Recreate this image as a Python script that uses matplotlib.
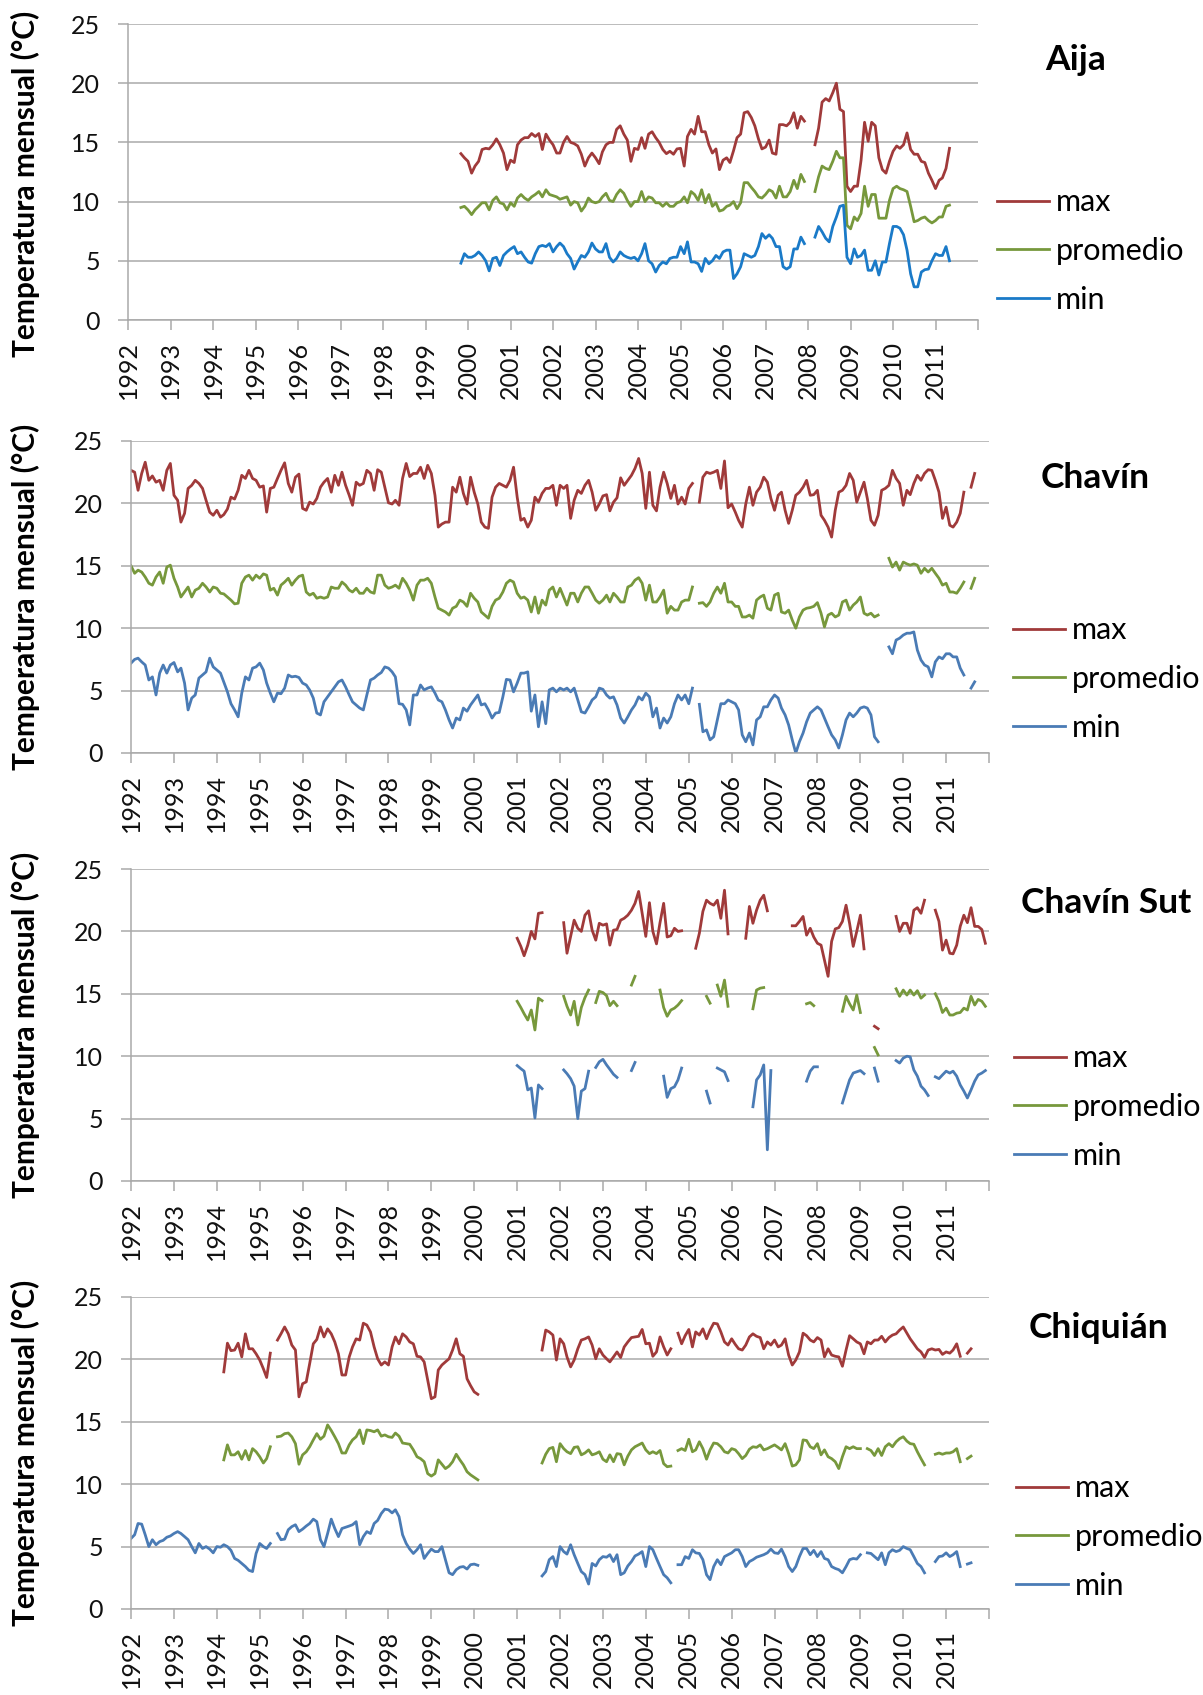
import pandas as pd
import matplotlib.pyplot as plt

plt.rcParams['font.family'] = ['Lato', 'DejaVu Sans']

# =========================
# Monthly temperatures (°C)
# each series = list of (first month, consecutive monthly values)
# =========================
aija_max = [
    ("1999-11", [14.05, 13.7, 13.4, 12.4, 13.0, 13.4, 14.4, 14.5, 14.45, 14.8,
                 15.3, 14.8, 14.1, 12.7, 13.5, 13.3, 14.8, 15.2, 15.4, 15.4,
                 15.75, 15.5, 15.75, 14.4, 15.7, 15.2, 14.8, 14.1, 14.1, 15.0,
                 15.5, 15.0, 14.9, 14.7, 14.0, 13.0, 13.7, 14.1, 13.7, 13.2,
                 14.2, 14.8, 15.0, 15.0, 16.1, 16.4, 15.7, 15.2, 13.4, 14.5,
                 14.4, 15.4, 14.5, 15.7, 15.9, 15.4, 15.0, 14.4, 14.05, 14.25,
                 14.0, 14.45, 14.5, 13.0, 15.5, 16.1, 15.7, 17.2, 15.9, 15.9,
                 14.8, 14.1, 14.45, 12.7, 13.5, 13.7, 13.3, 14.3, 15.4, 15.7,
                 17.5, 17.6, 17.1, 16.4, 15.3, 14.45, 14.6, 15.2, 14.1, 14.0,
                 16.5, 16.5, 16.4, 16.7, 17.5, 16.2, 17.2, 16.8]),
    ("2008-03", [14.8, 16.2, 18.4, 18.7, 18.5, 19.2, 20.0, 17.8, 17.6, 11.3,
                 10.85, 11.3, 11.3, 13.5, 16.7, 15.1, 16.7, 16.4, 13.7, 12.7,
                 12.4, 13.4, 14.25, 14.7, 14.5, 14.8, 15.8, 14.4, 14.0, 14.0,
                 13.4, 13.3, 12.4, 11.8, 11.1, 11.8, 12.0, 12.8, 14.5]),
]
aija_prom = [
    ("1999-11", [9.5, 9.6, 9.3, 8.9, 9.3, 9.6, 9.9, 9.9, 9.3, 10.1,
                 10.4, 9.9, 9.8, 9.3, 9.9, 9.6, 10.3, 10.6, 10.3, 10.1,
                 10.4, 10.6, 10.85, 10.4, 11.0, 10.6, 10.5, 10.4, 10.2, 10.3,
                 10.4, 9.7, 10.0, 9.9, 9.2, 9.6, 10.3, 10.0, 9.9, 10.0,
                 10.4, 10.7, 10.1, 10.0, 10.6, 11.0, 10.7, 10.1, 9.6, 10.0,
                 10.0, 10.85, 10.0, 10.4, 10.3, 9.9, 9.9, 9.6, 9.9, 9.6,
                 9.6, 9.9, 10.0, 10.4, 9.9, 10.85, 10.6, 10.1, 11.0, 9.9,
                 10.6, 9.6, 9.9, 9.2, 9.3, 9.6, 9.7, 10.0, 9.4, 9.9,
                 11.6, 11.6, 11.2, 10.85, 10.4, 10.3, 10.6, 11.0, 10.85, 10.3,
                 11.3, 10.4, 10.4, 10.85, 11.8, 11.1, 12.3, 11.7]),
    ("2008-03", [10.85, 12.1, 13.0, 12.8, 12.7, 13.4, 14.25, 13.7, 13.7, 8.0,
                 7.7, 8.7, 8.4, 9.0, 11.3, 9.6, 10.6, 10.6, 8.6, 8.6,
                 8.6, 10.1, 11.1, 11.3, 11.1, 11.0, 10.85, 9.6, 8.3, 8.4,
                 8.6, 8.7, 8.4, 8.2, 8.4, 8.7, 8.7, 9.6, 9.7]),
]
aija_min = [
    ("1999-11", [4.8, 5.6, 5.3, 5.3, 5.45, 5.75, 5.45, 5.0, 4.15, 5.2,
                 5.3, 4.6, 5.45, 5.75, 6.0, 6.2, 5.6, 5.75, 5.3, 4.9,
                 4.8, 5.6, 6.2, 6.3, 6.2, 6.45, 5.75, 6.2, 6.5, 6.2,
                 5.6, 5.2, 4.3, 4.9, 5.45, 5.3, 5.75, 6.5, 6.0, 5.75,
                 5.75, 6.45, 5.3, 4.9, 5.2, 5.75, 5.45, 5.3, 5.2, 5.3,
                 5.0, 5.6, 6.45, 5.0, 4.75, 4.05, 4.6, 4.9, 4.75, 5.2,
                 5.3, 5.3, 6.2, 5.6, 6.6, 4.9, 4.9, 4.75, 4.1, 5.2,
                 4.75, 5.0, 5.45, 5.2, 5.75, 5.9, 5.9, 3.5, 3.9, 4.5,
                 5.6, 5.45, 5.3, 5.45, 6.2, 7.3, 6.9, 7.2, 6.9, 6.2,
                 6.2, 4.5, 4.3, 4.5, 6.0, 6.0, 7.0, 6.45]),
    ("2008-03", [7.0, 7.9, 7.45, 6.9, 6.6, 7.9, 8.7, 9.6, 9.7, 5.3,
                 4.75, 6.0, 5.3, 5.45, 5.9, 4.2, 4.2, 5.0, 3.8, 4.9,
                 4.9, 6.45, 7.9, 7.9, 7.75, 7.2, 5.9, 3.9, 2.8, 2.8,
                 4.05, 4.25, 4.3, 5.0, 5.6, 5.45, 5.45, 6.2, 5.0]),
]

chavin_max = [
    ("1992-01", [22.65, 22.5, 21.05, 22.4, 23.3, 21.85, 22.2, 21.7, 21.85, 21.05,
                 22.65, 23.2, 20.65, 20.25, 18.5, 19.2, 21.2, 21.45, 21.85, 21.6,
                 21.2, 20.25, 19.3, 19.05, 19.45, 18.9, 19.1, 19.55, 20.5, 20.35,
                 21.05, 22.25, 22.0, 22.65, 22.0, 21.85, 21.3, 21.4, 19.3, 21.2,
                 21.3, 22.0, 22.65, 23.25, 21.6, 20.9, 22.1, 22.35, 19.6, 19.45,
                 20.1, 19.95, 20.4, 21.3, 21.7, 22.0, 20.9, 22.25, 21.45, 22.5,
                 21.45, 20.65, 19.85, 21.7, 21.45, 21.6, 22.65, 22.4, 21.05, 22.7,
                 22.5, 21.3, 20.05, 19.95, 20.25, 19.85, 22.0, 23.2, 22.15, 22.4,
                 22.4, 22.9, 22.0, 23.05, 22.4, 20.65, 18.1, 18.35, 18.5, 18.5,
                 21.3, 20.9, 22.1, 20.8, 19.95, 22.1, 20.9, 19.95, 18.5, 18.1,
                 18.0, 20.5, 21.3, 21.6, 21.45, 21.3, 21.85, 22.9, 20.5, 18.65,
                 18.8, 18.1, 18.65, 20.5, 20.1, 20.8, 21.2, 21.2, 21.45, 19.85,
                 21.45,
                 21.2, 21.45, 18.8, 20.25, 21.05, 20.8, 21.45, 21.85, 20.9, 19.45,
                 19.95, 20.6, 20.7, 19.4, 20.1, 20.45, 22.05, 21.45, 21.85, 22.25,
                 22.8, 23.6, 22.4, 19.6, 22.5, 19.85, 19.4, 21.3, 22.5, 21.6,
                 20.4, 21.45, 19.95, 20.5, 19.95, 21.2, 21.6]),
    ("2005-04", [20.1, 22.1, 22.5, 22.4, 22.5, 22.65, 21.2, 23.4, 19.65,
                 19.95, 19.3, 18.65, 18.1, 19.95, 21.3, 19.85, 20.9, 21.3, 22.1,
                 21.7, 20.4, 19.45, 20.65, 20.9, 19.45, 18.4, 19.45, 20.65, 20.9,
                 21.3, 21.85, 20.65, 20.7, 21.05, 19.05, 18.65, 18.1, 17.3,
                 19.45, 20.9, 21.05, 21.45, 22.4, 21.85, 20.1, 20.9, 21.7, 20.4,
                 18.65, 18.25, 19.05, 21.05, 21.2, 21.45, 22.65,
                 22.0, 21.6, 19.85, 21.05, 20.7, 21.6, 22.25, 21.85, 22.4, 22.7, 22.65,
                 21.85, 20.9, 18.8, 19.7, 18.25, 18.1, 18.5, 19.2, 20.9]),
    ("2011-08", [21.3, 22.4]),
]
chavin_prom = [
    ("1992-01", [15.0, 14.4, 14.65, 14.5, 14.1, 13.6, 13.45, 14.1, 14.5, 13.6,
                 14.9, 15.05, 14.0, 13.3, 12.5, 12.9, 13.3, 12.5, 13.05, 13.2,
                 13.6, 13.3, 12.9, 13.3, 13.2, 12.8, 12.75, 12.5, 12.25, 11.95,
                 12.0, 13.6, 14.1, 14.25, 13.85, 14.25, 14.0, 14.35, 14.25, 13.05,
                 13.2, 12.65, 13.45, 13.7, 14.0, 13.45, 13.85, 14.15, 14.25, 12.9,
                 12.65, 12.8, 12.4, 12.5, 12.4, 12.5, 13.3, 13.2, 13.2, 13.7,
                 13.45, 13.05, 12.9, 13.2, 12.8, 12.8, 13.2, 12.9, 12.8, 14.25,
                 14.25, 13.45, 13.2, 13.3, 13.45, 13.2, 14.0, 13.6, 13.05, 12.25,
                 13.45, 13.85, 13.85, 14.0, 13.6, 12.5, 11.6, 11.45, 11.3, 11.05,
                 11.6, 11.75, 12.25, 12.1, 11.75, 12.8, 12.4, 12.1, 11.3, 11.05,
                 10.8, 11.75, 12.25, 12.4, 12.9, 13.6, 13.85, 13.7, 12.8, 12.4,
                 12.5, 12.25, 11.3, 12.5, 11.2, 12.25, 11.85, 13.05, 13.3, 12.5,
                 13.2,
                 12.5, 11.85, 12.8, 12.8, 12.1, 12.8, 13.3, 13.3, 12.8, 12.25,
                 12.0, 12.25, 12.65, 12.1, 12.8, 12.5, 12.1, 12.1, 13.3, 13.45,
                 13.85, 14.05, 13.6, 12.25, 13.45, 12.1, 12.1, 12.5, 13.05, 11.2,
                 11.75, 11.45, 11.45, 12.1, 12.25, 12.25, 13.3]),
    ("2005-04", [12.0, 12.05, 11.75, 12.1, 12.8, 13.3, 12.8, 13.6, 12.1, 12.1,
                 11.75, 11.75, 10.9, 10.9, 11.05, 10.8, 12.25, 12.5, 12.65, 11.6,
                 11.45, 12.65, 12.8, 11.3, 11.2, 11.45, 10.65, 10.0, 10.9, 11.45,
                 11.6, 11.65, 11.75, 12.05, 11.2, 10.1, 11.05, 11.2, 10.9, 11.05,
                 12.1, 12.25, 11.45, 11.85, 12.1, 12.5, 11.2, 11.05, 11.2, 10.9,
                 11.05]),
    ("2009-09", [15.6, 14.9, 15.3, 14.65, 15.3, 15.15, 15.05, 15.15, 15.05, 14.4,
                 14.8, 14.5, 14.8, 14.4, 14.0, 13.45, 13.6, 12.9, 12.9, 12.8,
                 13.2, 13.7]),
    ("2011-08", [13.2, 14.0]),
]
chavin_min = [
    ("1992-01", [7.2, 7.5, 7.6, 7.3, 7.05, 5.85, 6.1, 4.65, 6.4, 7.05,
                 6.4, 7.05, 7.25, 6.5, 6.8, 5.6, 3.45, 4.4, 4.65, 6.0,
                 6.25, 6.5, 7.6, 6.9, 6.65, 6.4, 5.7, 4.9, 3.95, 3.45,
                 2.9, 4.8, 6.1, 5.85, 6.8, 6.9, 7.2, 6.65, 5.6, 4.8,
                 4.1, 4.8, 4.75, 5.2, 6.25, 6.1, 6.15, 6.05, 5.6, 5.45,
                 5.05, 4.4, 3.2, 3.05, 4.1, 4.5, 4.9, 5.3, 5.7, 5.85,
                 5.3, 4.65, 4.1, 3.85, 3.6, 3.45, 4.65, 5.85, 6.0, 6.25,
                 6.45, 6.9, 6.8, 6.5, 6.1, 3.95, 3.9, 3.45, 2.25, 4.65,
                 4.65, 5.45, 5.05, 5.2, 5.3, 4.8, 4.25, 4.1, 3.45, 2.65,
                 2.0, 2.8, 2.65, 3.6, 3.35, 3.85, 4.25, 4.65, 3.85, 3.95,
                 3.45, 2.8, 3.2, 3.25, 4.5, 5.9, 5.85, 4.9, 5.6, 6.4,
                 6.4, 6.5, 3.35, 4.65, 2.1, 4.1, 2.35, 5.05, 5.2, 4.9,
                 5.2,
                 5.05, 5.2, 4.9, 5.2, 4.25, 3.3, 3.2, 3.7, 4.25, 4.5,
                 5.2, 5.1, 4.65, 4.4, 4.5, 3.85, 2.8, 2.4, 2.9, 3.45,
                 3.85, 4.5, 4.25, 4.8, 4.5, 2.9, 3.6, 2.0, 2.8, 2.4,
                 2.9, 3.95, 4.65, 4.25, 4.65, 3.95, 5.2]),
    ("2005-04", [3.9, 1.7, 1.85, 1.05, 1.3, 2.65, 3.95, 3.95, 4.25, 4.1,
                 3.95, 3.45, 1.45, 0.9, 1.6, 0.65, 2.65, 2.9, 3.7, 3.7,
                 4.25, 4.65, 4.4, 3.6, 3.05, 2.25, 1.05, 0.0, 0.9, 1.6,
                 2.5, 3.2, 3.45, 3.7, 3.45, 2.8, 2.1, 1.45, 1.05, 0.4,
                 1.45, 2.65, 3.2, 2.9, 3.2, 3.6, 3.7, 3.6, 3.05, 1.3,
                 0.9]),
    ("2009-09", [8.5, 7.95, 9.05, 9.2, 9.45, 9.6, 9.6, 9.7, 8.25, 7.45,
                 7.05, 6.9, 6.1, 7.3, 7.7, 7.55, 7.95, 7.95, 7.7, 7.7,
                 6.8, 6.25]),
    ("2011-08", [5.2, 5.7]),
]

sut_max = [
    ("2001-01", [19.45, 18.8, 18.05, 18.9, 20.0, 19.4, 21.45, 21.5]),
    ("2002-02", [20.7, 18.25, 19.6, 20.9, 20.25, 20.0, 21.3, 21.65, 20.1, 19.3,
                 20.65, 20.5, 20.6, 18.9, 20.1, 20.15, 20.9, 21.05, 21.3, 21.7,
                 22.25, 23.2, 21.45, 19.6, 22.3, 20.0, 19.0, 20.7, 22.25, 19.55,
                 19.65, 20.25, 20.0, 20.05]),
    ("2005-03", [18.65, 19.85, 21.6, 22.5, 22.25, 22.1, 22.5, 21.05, 23.3, 19.8]),
    ("2006-05", [19.45, 22.0, 20.65, 21.7, 22.5, 22.9, 21.65]),
    ("2007-06", [20.45, 20.45, 20.8, 21.2, 19.7, 20.25, 19.55, 19.05, 18.9, 17.7,
                 16.4, 19.2, 20.2, 20.3, 20.8, 22.1, 20.65, 18.8, 20.0, 21.3,
                 18.6]),
    ("2009-05", [12.4, 12.2]),
    ("2009-11", [21.2, 20.0, 20.65, 20.65, 19.85, 21.7, 21.9, 21.45, 22.5]),
    ("2010-10", [21.7, 20.8, 18.5, 19.3, 18.25, 18.2, 18.9, 20.4, 21.3, 20.7,
                 21.9, 20.4, 20.4, 20.15, 19.05]),
]
sut_prom = [
    ("2001-01", [14.4, 13.9, 13.4, 12.9, 13.7, 12.1, 14.65, 14.45]),
    ("2002-02", [14.8, 14.0, 13.3, 14.4, 12.5, 13.9, 14.7, 15.3]),
    ("2002-11", [14.3, 15.2, 15.1, 14.85, 14.05, 14.4, 14.05]),
    ("2003-09", [15.7, 16.4]),
    ("2004-05", [15.3, 13.9, 13.2, 13.7, 13.85, 14.1, 14.45]),
    ("2005-06", [14.8, 14.25]),
    ("2005-09", [15.7, 14.8, 16.1, 14.0]),
    ("2006-07", [13.8, 15.3, 15.45, 15.5]),
    ("2007-10", [14.2, 14.3, 14.05]),
    ("2008-08", [13.6, 14.8, 14.2, 13.7, 14.9, 13.5]),
    ("2009-05", [10.7, 10.1]),
    ("2009-11", [15.4, 14.8, 15.3, 14.9, 15.3, 14.9, 15.25, 14.65, 14.9]),
    ("2010-10", [15.0, 14.4, 13.5, 13.85, 13.3, 13.3, 13.45, 13.5, 13.85, 13.7,
                 14.8, 14.1, 14.55, 14.4, 14.0]),
]
sut_min = [
    ("2001-01", [9.25, 9.0, 8.8, 7.3, 7.45, 5.05, 7.7, 7.4]),
    ("2002-02", [8.9, 8.6, 8.2, 7.6, 5.0, 7.2, 7.4, 8.8]),
    ("2002-11", [9.1, 9.55, 9.75, 9.3, 8.95, 8.55, 8.3]),
    ("2003-09", [8.85, 9.5]),
    ("2004-06", [8.4, 6.7, 7.4, 7.55, 8.1, 9.05]),
    ("2005-06", [7.2, 6.25]),
    ("2005-09", [9.05, 8.9, 8.75, 8.05]),
    ("2006-07", [5.95, 8.1, 8.5, 9.3, 2.5, 8.85]),
    ("2007-10", [8.0, 8.8, 9.15, 9.15]),
    ("2008-08", [6.25, 7.2, 8.1, 8.65, 8.75, 8.85, 8.6]),
    ("2009-05", [9.05, 8.0]),
    ("2009-11", [9.65, 9.45, 9.85, 10.0, 9.95, 8.9, 8.4, 7.6, 7.3, 6.85]),
    ("2010-10", [8.35, 8.2, 8.5, 8.8, 8.65, 8.8, 8.4, 7.7, 7.2, 6.65,
                 7.3, 8.0, 8.5, 8.65, 8.85]),
]

chiq_max = [
    ("1994-03", [19.0, 21.3, 20.7, 20.75, 21.3, 20.2, 22.05, 20.85, 20.85, 20.45,
                 19.95, 19.25, 18.55, 20.5]),
    ("1995-06", [21.55, 22.05, 22.6, 22.05, 21.15, 20.75, 17.0, 18.05, 18.2, 19.65,
                 21.25, 21.6, 22.6, 21.8, 22.45, 22.05, 21.4, 20.45, 18.75, 18.75,
                 20.2, 21.0, 21.65, 21.55, 22.9, 22.75, 22.2, 21.0, 20.05, 19.55,
                 19.8, 19.55, 21.0, 21.8, 21.25, 22.05, 21.8, 21.4, 21.25, 20.25,
                 20.2, 19.8, 18.35, 16.85, 17.0, 19.15, 19.55, 19.8, 20.05, 20.75,
                 21.65, 20.45, 20.25, 18.45, 17.9, 17.4, 17.2]),
    ("2001-08", [20.75, 22.35, 22.2, 21.95, 19.95, 21.65, 21.25, 20.2, 19.4, 19.95,
                 20.85, 21.55, 21.65, 21.8, 21.15, 20.05, 20.85, 20.35, 20.05, 19.8,
                 20.2, 20.6, 20.15, 21.0, 21.4, 21.75, 21.8, 21.85, 22.4, 21.25,
                 21.3, 20.25, 20.6, 21.8, 21.0, 20.35, 20.85]),
    ("2004-10", [22.1, 21.25, 21.9, 22.4, 21.0, 22.2, 21.95, 22.45, 21.65,
                 22.35, 22.9, 22.85, 22.2, 21.4, 21.15, 21.65, 21.2, 20.85, 20.75,
                 21.15, 21.8, 22.05, 21.85, 21.75, 20.85, 21.4, 21.15, 21.55,
                 21.0, 21.15, 21.65, 20.35, 19.55, 19.95, 20.6, 22.1, 21.9, 21.55,
                 21.4, 21.75, 21.55, 20.2, 20.85, 20.35, 20.25, 20.2, 19.45, 20.75,
                 21.9, 21.65, 21.4, 21.25, 20.45, 21.4, 21.25, 21.55,
                 21.55, 21.85, 21.4, 21.75, 21.95, 22.05, 22.35, 22.6, 22.1, 21.65,
                 21.25, 20.85, 20.6, 20.15, 20.75, 20.85, 20.75, 20.8, 20.4,
                 20.6, 20.5, 20.75, 21.25, 20.25]),
    ("2011-07", [20.5, 20.85]),
]
chiq_prom = [
    ("1994-03", [11.95, 13.15, 12.35, 12.35, 12.6, 12.0, 12.7, 11.95, 12.85, 12.6,
                 12.2, 11.7, 12.05, 13.0]),
    ("1995-06", [13.8, 13.85, 14.05, 14.1, 13.8, 13.25, 11.6, 12.35, 12.6, 13.0,
                 13.55, 14.05, 13.6, 13.85, 14.75, 14.3, 13.8, 13.25, 12.5, 12.5,
                 13.15, 13.55, 13.8, 14.35, 13.25, 14.35, 14.3, 14.2, 14.35, 13.85,
                 13.95, 13.8, 13.75, 14.1, 13.85, 13.3, 13.25, 13.2, 12.75, 12.2,
                 12.05, 11.8, 10.85, 10.65, 10.85, 11.95, 11.6, 11.25, 11.45, 11.8,
                 12.4, 11.95, 11.55, 11.0, 10.75, 10.55, 10.35]),
    ("2001-08", [11.7, 12.4, 12.85, 12.95, 11.8, 13.25, 12.85, 12.6, 12.45, 12.95,
                 13.0, 12.35, 12.5, 12.75, 12.35, 12.45, 12.6, 12.0, 11.8, 12.35,
                 11.8, 12.45, 12.4, 11.55, 12.25, 12.75, 13.0, 13.15, 13.3, 12.75,
                 12.45, 12.6, 12.45, 12.7, 11.65, 11.4, 11.45]),
    ("2004-10", [12.7, 12.85, 12.7, 13.6, 12.6, 12.75, 13.4, 12.85, 12.0, 12.75,
                 13.3, 13.25, 13.0, 12.6, 12.5, 12.85, 12.75, 12.45, 12.05, 12.3,
                 12.8, 13.0, 12.95, 13.15, 12.75, 12.85, 13.0, 13.15, 12.95, 12.75,
                 13.25, 12.45, 11.45, 11.55, 11.95, 13.55, 13.5, 13.0, 12.85, 13.25,
                 12.35, 12.75, 12.2, 12.05, 11.8, 11.25, 12.2, 13.0, 12.85, 13.0,
                 12.85, 12.85]),
    ("2009-03", [12.85, 12.7, 12.3, 12.85, 12.3, 13.0, 13.25, 13.0, 13.4, 13.65,
                 13.8, 13.45, 13.25, 13.2, 12.6, 12.05, 11.55]),
    ("2010-10", [12.4, 12.5, 12.4, 12.5, 12.5, 12.6, 12.85, 11.8]),
    ("2011-07", [12.05, 12.25]),
]
chiq_min = [
    ("1992-01", [5.65, 5.95, 6.85, 6.8, 5.95, 5.0, 5.55, 5.15, 5.4, 5.5,
                 5.75, 5.85, 6.05, 6.2, 6.05, 5.8, 5.55, 5.0, 4.5, 5.25,
                 4.85, 5.0, 4.8, 4.5, 5.0, 4.95, 5.15, 5.0, 4.7, 4.05,
                 3.9, 3.65, 3.4, 3.1, 3.0, 4.45, 5.25, 5.0, 4.85, 5.25]),
    ("1995-06", [6.05, 5.55, 5.6, 6.35, 6.6, 6.75, 6.2, 6.4, 6.65, 6.85,
                 7.2, 7.0, 5.55, 5.0, 6.05, 7.2, 6.45, 5.8, 6.45, 6.55,
                 6.65, 6.75, 7.0, 5.15, 5.8, 6.2, 6.05, 6.85, 7.1, 7.65,
                 8.0, 7.95, 7.7, 7.95, 7.4, 5.95, 5.25, 4.8, 4.45, 4.75,
                 5.15, 4.05, 4.45, 4.8, 4.6, 4.6, 5.0, 3.95, 2.9, 2.75,
                 3.15, 3.35, 3.4, 3.2, 3.55, 3.6, 3.5]),
    ("2001-08", [2.65, 3.0, 3.95, 4.2, 3.4, 5.0, 4.6, 4.4, 5.15, 4.35,
                 3.65, 3.0, 2.75, 2.0, 3.65, 3.45, 3.95, 4.2, 4.15, 4.35,
                 3.8, 4.35, 2.75, 2.9, 3.45, 3.8, 4.25, 4.4, 4.6, 3.4,
                 5.0, 4.75, 4.05, 3.4, 2.75, 2.5, 2.1]),
    ("2004-10", [3.55, 3.55, 4.2, 4.05, 4.75, 4.5, 4.45, 3.95, 2.75, 2.35,
                 3.4, 3.95, 3.55, 4.2, 4.35, 4.5, 4.75, 4.75, 4.2, 3.4,
                 3.8, 3.95, 4.15, 4.25, 4.35, 4.5, 4.8, 4.5, 4.45, 4.8,
                 4.2, 3.4, 3.0, 3.4, 4.2, 4.85, 4.85, 4.35, 4.7, 4.2,
                 4.6, 4.05, 3.95, 3.4, 3.25, 3.15, 2.9, 3.4, 3.95, 4.05,
                 4.0, 4.35]),
    ("2009-03", [4.5, 4.45, 4.2, 3.95, 4.5, 3.55, 4.5, 4.75, 4.6, 4.7,
                 5.0, 4.85, 4.75, 4.2, 3.65, 3.4, 2.9]),
    ("2010-10", [3.8, 4.2, 4.25, 4.5, 4.2, 4.35, 4.6, 3.4]),
    ("2011-07", [3.6, 3.7]),
]

stations = ["Aija", "Chavín", "Chavín Sut", "Chiquián"]
series_labels = ["max", "promedio", "min"]
years = list(range(1992, 2013))

# =========================
# Layout (pixel boxes of the four plot areas: left, top, right, bottom)
# =========================
W, H = 1203, 1695
boxes = [(128, 24, 978, 320), (131, 441, 989, 753),
         (131, 869, 989, 1181), (131, 1297, 989, 1609)]
title_xy = [(1076, 70), (1095, 488), (1106, 913), (1098, 1338)]
legend_xy = [(997, 251), (1013, 679), (1014, 1107), (1016, 1537)]
ylabel_y = [184, 597, 1025, 1453]

RED = '#a03a3a'
GREEN = '#77983c'
BLUE_AIJA = '#1a7ac8'
BLUE = '#4a7bb5'
GRID = '#a9a9a9'

panels = [
    (aija_max, aija_prom, aija_min, BLUE_AIJA),
    (chavin_max, chavin_prom, chavin_min, BLUE),
    (sut_max, sut_prom, sut_min, BLUE),
    (chiq_max, chiq_prom, chiq_min, BLUE),
]

fig = plt.figure(figsize=(W / 100, H / 100), dpi=100)

for i, (smax, sprom, smin, blue) in enumerate(panels):
    l, t, r, b = boxes[i]
    ax = fig.add_axes([l / W, 1 - b / H, (r - l) / W, (b - t) / H])

    handles = []
    for segs, color in zip([smax, sprom, smin], [RED, GREEN, blue]):
        line = None
        for start, vals in segs:
            dates = pd.date_range(start + "-01", periods=len(vals), freq="MS")
            line, = ax.plot(dates, vals, color=color, lw=2.0,
                            solid_joinstyle='round')
        handles.append(line)

    ax.set_ylim(0, 25)
    ax.set_yticks(range(0, 26, 5))
    ax.set_xlim(pd.Timestamp("1992-01-01"), pd.Timestamp("2012-01-01"))
    ticks = [pd.Timestamp(f"{y}-01-01") for y in years]
    ax.set_xticks(ticks)
    ax.set_xticklabels([str(y) for y in years[:-1]] + [""], rotation=90,
                       ha='center', va='top')

    ax.grid(axis='y', color=GRID, lw=1.1)
    ax.set_axisbelow(True)
    for side in ['top', 'right']:
        ax.spines[side].set_visible(False)
    for side in ['left', 'bottom']:
        ax.spines[side].set_color(GRID)
        ax.spines[side].set_linewidth(1.1)
    ax.tick_params(axis='both', direction='out', length=7, width=1.1,
                   color=GRID, labelsize=18, labelcolor='#111111')
    ax.tick_params(axis='y', pad=13)
    ax.tick_params(axis='x', pad=8)

    tx, ty = title_xy[i]
    fig.text(tx / W, 1 - ty / H, stations[i], ha='center', va='baseline',
             fontsize=25.5, fontweight='bold')

    lx, ly = legend_xy[i]
    fig.legend(handles, series_labels, loc='center left',
               bbox_to_anchor=(lx / W, 1 - ly / H), frameon=False,
               fontsize=22, handlelength=1.7, handletextpad=0.23,
               labelspacing=0.68, borderpad=0, borderaxespad=0)

    fig.text(25 / W, 1 - ylabel_y[i] / H, "Temperatura mensual (°C)",
             rotation=90, ha='center', va='center', fontsize=21.5,
             fontweight='bold')

fig.savefig("out.png", dpi=100)
